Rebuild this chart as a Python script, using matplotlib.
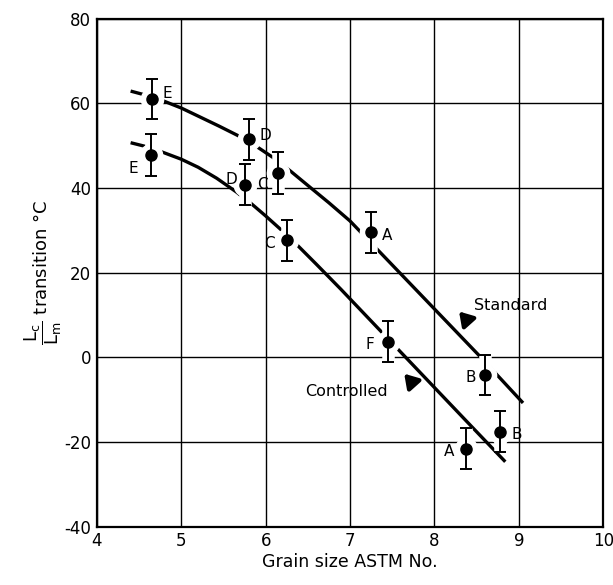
import matplotlib
matplotlib.use('Agg')
import matplotlib.pyplot as plt

# points: grain size, transition temperature, scatter
std_x = [4.65, 5.80, 6.15, 7.25, 8.60]
std_y = [61.0, 51.5, 43.5, 29.5, -4.2]
std_err = [4.7, 4.8, 4.9, 4.8, 4.8]
std_lab = ['E', 'D', 'C', 'A', 'B']

ctl_x = [4.64, 5.75, 6.25, 7.45, 8.38, 8.78]
ctl_y = [47.8, 40.8, 27.6, 3.7, -21.6, -17.6]
ctl_err = [5.0, 4.9, 4.8, 4.9, 4.8, 4.8]
ctl_lab = ['E', 'D', 'C', 'F', 'A', 'B']

# fitted curves (vertices)
std_cx = [4.40, 4.55, 4.76, 5.00, 5.22, 5.45, 5.69, 5.90, 6.11, 6.30, 6.50, 6.75, 7.00, 8.53, 9.05]
std_cy = [62.9, 62.1, 60.8, 58.9, 56.8, 54.6, 52.2, 49.7, 46.9, 43.9, 40.6, 36.5, 32.2, 0.4, -10.8]
ctl_cx = [4.40, 4.58, 4.76, 5.00, 5.20, 5.42, 5.65, 5.83, 6.00, 6.19, 6.37, 6.60, 6.89, 8.37, 8.84]
ctl_cy = [50.7, 49.8, 48.6, 46.8, 44.9, 42.3, 39.1, 36.3, 33.4, 30.0, 26.6, 22.0, 16.1, -14.9, -24.7]

plt.rcParams['font.family'] = ['DejaVu Sans']
plt.rcParams['axes.unicode_minus'] = False

fig = plt.figure(figsize=(6.13, 5.85), dpi=100)
ax = fig.add_axes([0.158, 0.100, 0.826, 0.868])

ax.set_xlim(4, 10)
ax.set_ylim(-40, 80)
ax.set_xticks(range(4, 11))
ax.set_yticks(range(-40, 81, 20))
ax.grid(True, color='black', linewidth=1.0)
ax.set_axisbelow(True)
ax.tick_params(length=0, labelsize=12, pad=4)
for s in ax.spines.values():
    s.set_linewidth(1.6)

ax.plot(std_cx, std_cy, color='black', lw=2.4, zorder=2, solid_capstyle='butt')
ax.plot(ctl_cx, ctl_cy, color='black', lw=2.4, zorder=2, solid_capstyle='butt')

# white halo around each point to break curve and grid
for xs, ys, es in [(std_x, std_y, std_err), (ctl_x, ctl_y, ctl_err)]:
    ax.errorbar(xs, ys, yerr=es, fmt='o', color='white', ms=16, lw=9,
                capsize=0, zorder=3)
    ax.errorbar(xs, ys, yerr=es, fmt='o', color='black', ms=8, lw=1.4,
                capsize=4, capthick=1.4, zorder=4)

std_off = [(8, 4), (8, 3), (-15, -8), (8, -2), (-14, -2)]
ctl_off = [(-16, -10), (-14, 4), (-16, -2), (-16, -2), (-16, -2), (8, -2)]
for x, y, t, (dx, dy) in zip(std_x, std_y, std_lab, std_off):
    ax.annotate(t, (x, y), xytext=(dx, dy), textcoords='offset points',
                fontsize=11, va='center', zorder=5)
for x, y, t, (dx, dy) in zip(ctl_x, ctl_y, ctl_lab, ctl_off):
    ax.annotate(t, (x, y), xytext=(dx, dy), textcoords='offset points',
                fontsize=11, va='center', zorder=5)

ax.text(8.47, 12.2, 'Standard', fontsize=11.5, va='center')
ax.annotate('', xy=(8.27, 11.3), xytext=(8.40, 8.4),
            arrowprops=dict(arrowstyle='-|>,head_width=0.5,head_length=0.8',
                            color='black', lw=3.0))
ax.text(6.47, -8.2, 'Controlled', fontsize=11.5, va='center')
ax.annotate('', xy=(7.62, -3.4), xytext=(7.75, -6.3),
            arrowprops=dict(arrowstyle='-|>,head_width=0.5,head_length=0.8',
                            color='black', lw=3.0))

ax.set_xlabel('Grain size ASTM No.', fontsize=12.5, labelpad=2)
ax.set_ylabel(r'$\dfrac{\mathrm{L_c}}{\mathrm{L_m}}$ transition °C', fontsize=13, labelpad=0)

fig.savefig('out.png', dpi=100)
